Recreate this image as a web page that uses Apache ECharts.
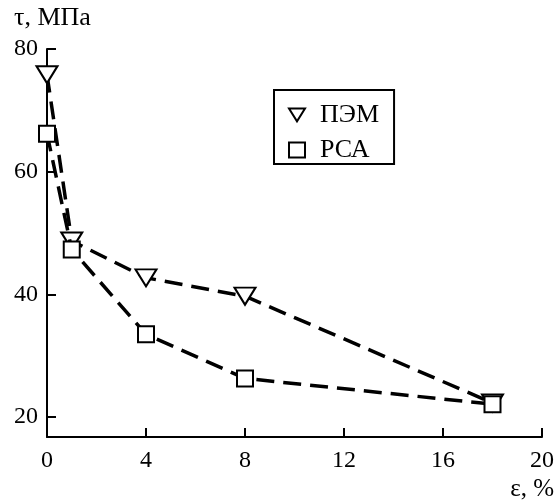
<!DOCTYPE html>
<html>
<head>
<meta charset="utf-8">
<script src="https://cdn.jsdelivr.net/npm/echarts@6/dist/echarts.min.js"></script>
<style>html,body{margin:0;padding:0;background:#fff;}#c{width:557px;height:502px;}</style>
</head>
<body>
<div id="c"></div>
<script>
var strainX = [0, 1, 4, 8, 18];
var pemValues = [75.8, 48.7, 42.7, 39.7, 22.3];
var pcaValues = [66.2, 47.3, 33.5, 26.3, 22.1];
var xTicks = [0, 4, 8, 12, 16, 20];
var yTicks = [20, 40, 60, 80];
var seriesNames = ['ПЭМ', 'РСА'];
var axisNames = ['ε, %', 'τ, МПа'];

var font = 'Liberation Serif';
var triPath = 'path://M0,0 L10,0 L5,8 Z';

function pts(vals) { return strainX.map(function (x, i) { return [x, vals[i]]; }); }

var chart = echarts.init(document.getElementById('c'));
chart.setOption({
  animation: false,
  backgroundColor: '#fff',
  grid: { left: 47, right: 15, top: 49, bottom: 64, containLabel: false },
  xAxis: {
    type: 'value', min: 0, max: 20, interval: 4,
    name: axisNames[0], nameLocation: 'end', nameGap: 12,
    nameTextStyle: { fontFamily: font, fontSize: 25, color: '#000', align: 'right', verticalAlign: 'top', padding: [40, 0, 0, 0] },
    axisLine: { show: true, lineStyle: { color: '#000', width: 2 } },
    axisTick: { show: true, inside: true, length: 9, lineStyle: { color: '#000', width: 2 } },
    axisLabel: { fontFamily: font, fontSize: 24, color: '#000', margin: 12,
      customValues: xTicks },
    splitLine: { show: false }
  },
  yAxis: {
    type: 'value', min: 16.75, max: 80,
    name: axisNames[1], nameLocation: 'end', nameGap: 18,
    nameTextStyle: { fontFamily: font, fontSize: 26, color: '#000', align: 'left', padding: [0, 0, 0, -33] },
    axisLine: { show: true, lineStyle: { color: '#000', width: 2 } },
    axisTick: { show: true, inside: true, length: 9, lineStyle: { color: '#000', width: 2 }, customValues: yTicks },
    axisLabel: { fontFamily: font, fontSize: 24, color: '#000', margin: 9, customValues: yTicks },
    splitLine: { show: false }
  },
  legend: {
    orient: 'vertical', left: 274, top: 90,
    borderColor: '#000', borderWidth: 2, borderRadius: 0,
    padding: [12, 15, 1, 14], itemGap: 9, itemWidth: 16, itemHeight: 15,
    textStyle: { fontFamily: font, fontSize: 26, color: '#000', padding: [0, 0, 0, 10] },
    data: [
      { name: seriesNames[0], icon: triPath, itemStyle: { color: '#fff', borderColor: '#000', borderWidth: 2 } },
      { name: seriesNames[1], icon: 'rect', itemStyle: { color: '#fff', borderColor: '#000', borderWidth: 2 } }
    ]
  },
  series: [
    {
      name: seriesNames[0], type: 'line', data: pts(pemValues),
      symbol: triPath, symbolSize: [21, 17], z: 2,
      itemStyle: { color: '#fff', borderColor: '#000', borderWidth: 2 },
      lineStyle: { color: '#000', width: 3.5, type: [18, 9] }
    },
    {
      name: seriesNames[1], type: 'line', data: pts(pcaValues),
      symbol: 'rect', symbolSize: 16, z: 3,
      itemStyle: { color: '#fff', borderColor: '#000', borderWidth: 2 },
      lineStyle: { color: '#000', width: 3.5, type: [18, 9] }
    }
  ]
});
</script>
</body>
</html>
